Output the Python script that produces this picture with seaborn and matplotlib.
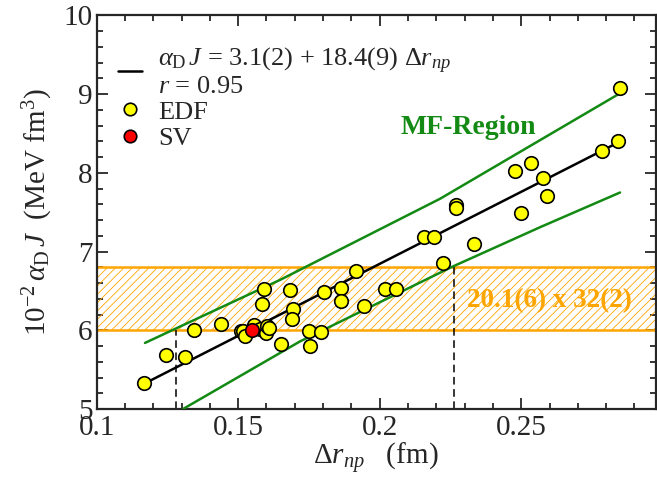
import numpy as np
import pandas as pd
import matplotlib
matplotlib.use("Agg")
import matplotlib.pyplot as plt
import seaborn as sns
from matplotlib.lines import Line2D
from matplotlib.ticker import MultipleLocator

# ---------------- data ----------------
edf_drnp = [0.1167, 0.1246, 0.1313, 0.1345, 0.1440, 0.1509, 0.1518, 0.1525,
            0.1556, 0.1577, 0.1598, 0.1601, 0.1610, 0.1591, 0.1584, 0.1651,
            0.1683, 0.1693, 0.1690, 0.1751, 0.1753, 0.1792, 0.1803, 0.1864,
            0.1863, 0.1917, 0.1943, 0.2020, 0.2058, 0.2156, 0.2193, 0.2223,
            0.2269, 0.2270, 0.2334, 0.2479, 0.2535, 0.2577, 0.2591, 0.2500,
            0.2784, 0.2842, 0.2849]
edf_alphaJ = [5.33, 5.69, 5.66, 6.00, 6.08, 5.99, 5.99, 5.93,
              6.07, 6.02, 5.96, 6.05, 6.03, 6.53, 6.33, 5.83,
              6.51, 6.27, 6.15, 5.99, 5.80, 5.98, 6.49, 6.535,
              6.37, 6.75, 6.31, 6.52, 6.53, 7.19, 7.18, 6.86,
              7.59, 7.555, 7.09, 8.02, 8.12, 7.94, 7.71, 7.49,
              8.28, 8.41, 9.08]
sv_drnp = [0.1548]
sv_alphaJ = [6.00]

fit_drnp = [0.1167, 0.2845]
fit_alphaJ = [5.32, 8.39]

upper_drnp = [0.1171, 0.1648, 0.2213, 0.2849]
upper_alphaJ = [5.84, 6.64, 7.67, 9.01]
lower_drnp = [0.1305, 0.1719, 0.2252, 0.2567, 0.2849]
lower_alphaJ = [5.00, 5.86, 6.80, 7.31, 7.75]

band_low, band_high = 6.0, 6.8
dash_drnp = [0.1279, 0.2263]
dash_top = [6.0, 6.8]

x_ticks = [0.1, 0.15, 0.2, 0.25]
x_ticklabels = ["0.1", "0.15", "0.2", "0.25"]
y_ticks = [5, 6, 7, 8, 9, 10]

fit_label = "$\\alpha_{\\rm D}\\,J$ = 3.1(2) + 18.4(9) $\\Delta r_{np}$\n$r$ = 0.95"
band_text = "20.1(6) x 32(2)"
region_text = "MF-Region"

# ---------------- style ----------------
sns.set_style("ticks")
plt.rcParams["font.family"] = ["Liberation Serif", "DejaVu Serif"]
plt.rcParams["mathtext.fontset"] = "custom"
plt.rcParams["mathtext.rm"] = "Liberation Serif"
plt.rcParams["mathtext.it"] = "Liberation Serif:italic"
plt.rcParams["mathtext.bf"] = "Liberation Serif:bold"
plt.rcParams["hatch.linewidth"] = 0.6

fig = plt.figure(figsize=(6.57, 4.79), dpi=100)
ax = fig.add_axes([0.147, 0.146, 0.851, 0.822])

# orange band
ax.axhspan(band_low, band_high, facecolor="none", edgecolor="#FFA500",
           hatch="////", linewidth=0, zorder=1)
ax.axhline(band_low, color="#FFA500", lw=1.8, zorder=2)
ax.axhline(band_high, color="#FFA500", lw=1.8, zorder=2)

# dashed verticals
for xd, yt in zip(dash_drnp, dash_top):
    ax.plot([xd, xd], [5.0, yt], color="black", ls=(0, (5, 3)), lw=1.1, zorder=2)

# green region lines
ax.plot(upper_drnp, upper_alphaJ, color="#138a13", lw=1.8, zorder=3)
ax.plot(lower_drnp, lower_alphaJ, color="#138a13", lw=1.8, zorder=3)

# fit
ax.plot(fit_drnp, fit_alphaJ, color="black", lw=1.8, zorder=3)

df = pd.DataFrame({"drnp": edf_drnp, "aJ": edf_alphaJ})
sns.scatterplot(data=df, x="drnp", y="aJ", ax=ax, color="#FFFF00",
                edgecolor="black", linewidth=1.2, s=95, zorder=4)
df_sv = pd.DataFrame({"drnp": sv_drnp, "aJ": sv_alphaJ})
sns.scatterplot(data=df_sv, x="drnp", y="aJ", ax=ax, color="#FF0000",
                edgecolor="black", linewidth=1.2, s=95, zorder=5)

ax.set_xlim(0.1, 0.2975)
ax.set_ylim(5, 10)
ax.set_xticks(x_ticks)
ax.set_xticklabels(x_ticklabels)
ax.set_yticks(y_ticks)
ax.xaxis.set_minor_locator(MultipleLocator(0.01))
ax.yaxis.set_minor_locator(MultipleLocator(0.2))
ax.tick_params(which="both", direction="in", top=True, right=True,
               width=1.3, labelsize=21)
ax.tick_params(axis="x", pad=4)
ax.tick_params(axis="y", pad=3)
ax.tick_params(which="major", length=8)
ax.tick_params(which="minor", length=4)
for sp in ax.spines.values():
    sp.set_linewidth(1.6)
    sp.set_visible(True)

ax.set_xlabel("$\\Delta r_{np}$   (fm)", fontsize=21, labelpad=0)
ax.set_ylabel("$10^{-2}\\,\\alpha_{\\rm D}\\,J$  (MeV fm$^3$)", fontsize=21, labelpad=6)

ax.text(0.26, 6.38, band_text, color="#FFA500", fontsize=19.5, fontweight="bold",
        ha="center", va="center", zorder=6)
ax.text(0.2314, 8.58, region_text, color="#138a13", fontsize=20, fontweight="bold",
        ha="center", va="center", zorder=6)

handles = [Line2D([], [], color="black", lw=1.8),
           Line2D([], [], ls="none", marker="o", markerfacecolor="#FFFF00",
                  markeredgecolor="black", markersize=9, markeredgewidth=1.2),
           Line2D([], [], ls="none", marker="o", markerfacecolor="#FF0000",
                  markeredgecolor="black", markersize=9, markeredgewidth=1.2)]
labels = [fit_label, "EDF", "SV"]
leg = ax.legend(handles, labels, loc="upper left", bbox_to_anchor=(0.02, 0.948),
                frameon=False, fontsize=19, handlelength=0.9, handletextpad=0.6,
                labelspacing=0.1, borderaxespad=0)
for t in leg.get_texts():
    t.set_linespacing(0.95)

fig.savefig("out.png", dpi=100)
